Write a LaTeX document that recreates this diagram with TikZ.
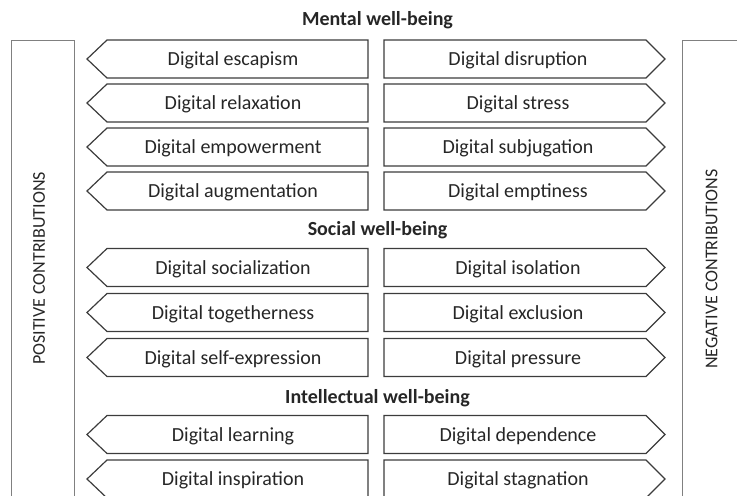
\documentclass[tikz,border=0pt]{standalone}
\usepackage{fontspec}
\setmainfont{Carlito}

\definecolor{textgray}{HTML}{262626}
\definecolor{edgegray}{HTML}{3C3C3C}
\definecolor{framegray}{HTML}{808080}

\tikzset{
  leftarrow/.style={draw=edgegray, line width=0.6pt, line join=miter},
  rightarrow/.style={draw=edgegray, line width=0.6pt, line join=miter},
  item/.style={anchor=base, text=textgray, font=\fontsize{10}{12}\selectfont, inner sep=0pt},
  headline/.style={anchor=base, text=textgray, font=\fontsize{10}{12}\selectfont\bfseries, inner sep=0pt},
  sidetext/.style={rotate=90, text=textgray, font=\fontsize{9}{11}\selectfont, inner sep=0pt},
  frame/.style={draw=framegray, line width=0.5pt}
}

\begin{document}
\begin{tikzpicture}[x=0.5pt,y=-0.5pt]
\clip (0,0) rectangle (737,495);

% side frames, open at the bottom
\draw[frame] (11.5,520) -- (11.5,40) -- (74,40) -- (74,520);
\draw[frame] (682,520) -- (682,40) -- (744,40) -- (744,520);
\node[sidetext] (pos) at (39,268.5) {POSITIVE CONTRIBUTIONS};
\node[sidetext] (neg) at (711.5,269) {NEGATIVE CONTRIBUTIONS};

\node[headline] (mental) at (377.5,25.5) {Mental well-being};
\node[headline] (social) at (377.5,235) {Social well-being};
\node[headline] (intellectual) at (377.5,403) {Intellectual well-being};

\foreach \y/\pos/\neg [count=\i] in {
  59/Digital escapism/Digital disruption,
  103/Digital relaxation/Digital stress,
  147/Digital empowerment/Digital subjugation,
  191/Digital augmentation/Digital emptiness,
  267.5/Digital socialization/Digital isolation,
  312.5/Digital togetherness/Digital exclusion,
  357.5/Digital self-expression/Digital pressure,
  434.5/Digital learning/Digital dependence,
  479/Digital inspiration/Digital stagnation}
{
  \draw[leftarrow] (87,\y) -- (107,\y-19) -- (368,\y-19) -- (368,\y+19) -- (107,\y+19) -- cycle;
  \draw[rightarrow] (384,\y-19) -- (646,\y-19) -- (665,\y) -- (646,\y+19) -- (384,\y+19) -- cycle;
  \node[item] (p\i) at (233,\y+6.5) {\pos};
  \node[item] (n\i) at (518,\y+6.5) {\neg};
}
\end{tikzpicture}
\end{document}
